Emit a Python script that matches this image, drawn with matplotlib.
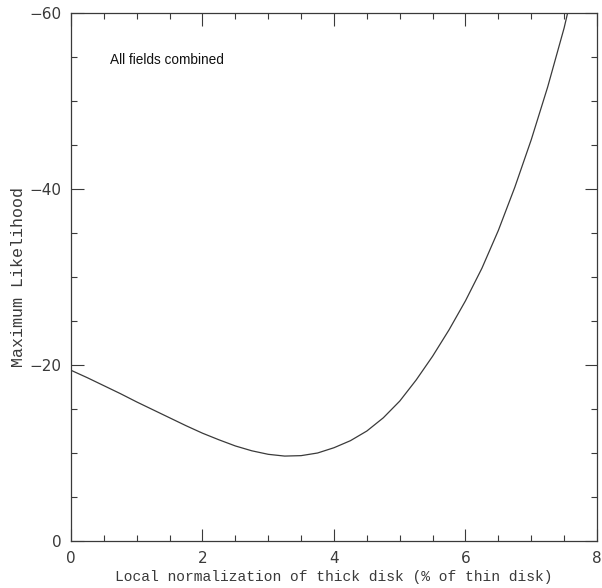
import matplotlib
matplotlib.use("Agg")
import matplotlib.pyplot as plt
from matplotlib.ticker import MultipleLocator

norm_pct = [0.0, 0.25, 0.5, 0.75, 1.0, 1.25, 1.5, 1.75, 2.0, 2.25, 2.5, 2.75, 3.0,
            3.25, 3.5, 3.75, 4.0, 4.25, 4.5, 4.75, 5.0, 5.25, 5.5, 5.75, 6.0,
            6.25, 6.5, 6.75, 7.0, 7.25, 7.5, 7.55]
max_like = [-19.4, -18.55, -17.65, -16.75, -15.8, -14.9, -14.0, -13.1, -12.25, -11.5,
            -10.8, -10.25, -9.85, -9.65, -9.7, -10.0, -10.6, -11.4, -12.5, -14.0,
            -15.9, -18.3, -21.0, -24.0, -27.3, -31.0, -35.3, -40.2, -45.6, -51.6,
            -58.3, -59.9]
annotation = "All fields combined"
x_label = "Local normalization of thick disk (% of thin disk)"
y_label = "Maximum Likelihood"

col = "#3a3a3a"
fig = plt.figure(figsize=(6.02, 5.88), dpi=100)
ax = fig.add_axes([71/602, 1-541/588, (597-71)/602, (541-13)/588])
ax.plot(norm_pct, max_like, color=col, lw=0.9)
ax.set_xlim(0, 8)
ax.set_ylim(0, -60)
ax.xaxis.set_major_locator(MultipleLocator(2))
ax.xaxis.set_minor_locator(MultipleLocator(0.5))
ax.yaxis.set_major_locator(MultipleLocator(20))
ax.yaxis.set_minor_locator(MultipleLocator(5))
ax.tick_params(which="both", direction="in", top=True, right=True, color=col,
               width=0.8, labelcolor=col)
ax.tick_params(which="major", length=9, labelsize=11, pad=7)
ax.tick_params(which="minor", length=4.5)
for lab in ax.get_xticklabels() + ax.get_yticklabels():
    lab.set_family("DejaVu Sans")
for s in ax.spines.values():
    s.set_color(col)
    s.set_linewidth(0.9)
ax.text(0.59, -54.7, annotation, fontsize=9.8, family="Liberation Sans",
        color="#111", va="center", ha="left")
ax.set_xlabel(x_label, family="Liberation Mono", fontsize=10.5, color=col, labelpad=3)
ax.set_ylabel(y_label, family="Liberation Mono", fontsize=12, color=col, labelpad=2)
fig.savefig("out.png", dpi=100)
